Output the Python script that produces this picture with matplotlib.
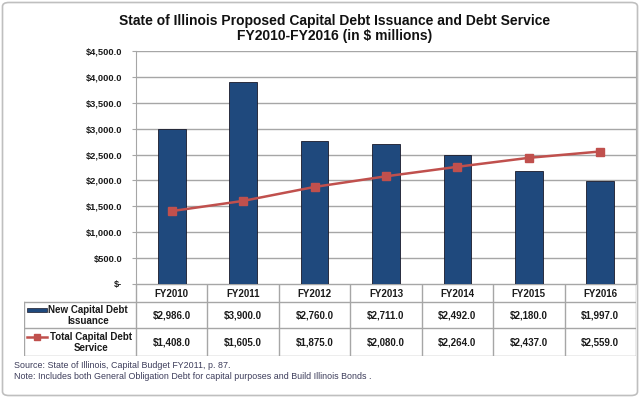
import matplotlib
matplotlib.use("Agg")
import matplotlib.pyplot as plt
from matplotlib.patches import FancyBboxPatch, Rectangle

categories = ["FY2010", "FY2011", "FY2012", "FY2013", "FY2014", "FY2015", "FY2016"]
new_issuance = [2986.0, 3900.0, 2760.0, 2711.0, 2492.0, 2180.0, 1997.0]
debt_service = [1408.0, 1605.0, 1875.0, 2080.0, 2264.0, 2437.0, 2559.0]
yticks = [0, 500, 1000, 1500, 2000, 2500, 3000, 3500, 4000, 4500]
series_labels = [["New Capital Debt", "Issuance"], ["Total Capital Debt", "Service"]]
title = "State of Illinois Proposed Capital Debt Issuance and Debt Service\nFY2010-FY2016 (in $ millions)"
source = "Source: State of Illinois, Capital Budget FY2011, p. 87."
note = "Note: Includes both General Obligation Debt for capital purposes and Build Illinois Bonds ."

BAR_C = "#1F497D"
LINE_C = "#C0504D"
GRID_C = "#A6A6A6"
FONT = "Liberation Sans"

W, H = 640, 398
fig = plt.figure(figsize=(W / 100, H / 100), dpi=100)
fig.patch.set_facecolor("white")

def fx(px):
    return px / W

def fy(py):
    return 1 - py / H

# outer frame
frame = FancyBboxPatch((fx(2.5), fy(395.5)), fx(635) - fx(0), fy(2.5) - fy(395.5),
                       boxstyle="round,pad=0,rounding_size=0.01", transform=fig.transFigure,
                       fill=False, edgecolor="#BFBFBF", linewidth=1.2)
fig.patches.append(frame)

pl, pr, pt, pb = 136, 636, 51, 284
ax = fig.add_axes([fx(pl), fy(pb), fx(pr) - fx(pl), fy(pt) - fy(pb)])
x = list(range(len(categories)))
ax.bar(x, new_issuance, width=0.39, color=BAR_C, edgecolor="#1a1a2a", linewidth=0.6, zorder=3)
ax.plot(x, debt_service, color=LINE_C, linewidth=1.8, marker="s", markersize=6, zorder=4)
ax.set_xlim(-0.5, len(categories) - 0.5)
ax.set_ylim(0, 4500)
ax.set_yticks(yticks)
ax.set_yticklabels(["$-" if v == 0 else f"${v:,.1f}" for v in yticks],
                   fontfamily=FONT, fontweight="bold", fontsize=6.7, color="#1a1a1a")
ax.set_xticks([])
ax.yaxis.grid(True, color=GRID_C, linewidth=1.0, zorder=0)
for s in ["top", "bottom"]:
    ax.spines[s].set_visible(False)
ax.spines["left"].set_color(GRID_C)
ax.spines["right"].set_color(GRID_C)
ax.tick_params(axis="y", length=3, color=GRID_C, pad=7)

# data table
tb = 356
lab_l = 24
colw = (pr - pl) / len(categories)
tax = fig.add_axes([fx(lab_l), fy(tb), fx(pr) - fx(lab_l), fy(pb) - fy(tb)])
tax.set_xlim(-0.5 - (pl - lab_l) / colw, len(categories) - 0.5)
tax.set_ylim(tb, pb)
tax.axis("off")
lk = dict(color=GRID_C, linewidth=1.0)
row_y = [pb, 302, 328, tb]
x0 = tax.get_xlim()[0]
tax.plot([-0.5, len(categories) - 0.5], [pb, pb], **lk)
for yy in row_y[1:]:
    tax.plot([x0, len(categories) - 0.5], [yy, yy], **lk)
for i in range(len(categories) + 1):
    tax.plot([i - 0.5, i - 0.5], [pb, tb], **lk)
tax.plot([x0, x0], [302, tb], **lk)

tk = dict(fontfamily=FONT, fontweight="bold", fontsize=7, color="#1a1a1a", ha="center", va="center")
for i, c in enumerate(categories):
    tax.text(i, (pb + 302) / 2 + 0.5, c, **tk)
    tax.text(i, (302 + 328) / 2, f"${new_issuance[i]:,.1f}", **tk)
    tax.text(i, (328 + tb) / 2, f"${debt_service[i]:,.1f}", **tk)

k0 = x0 + 3 / colw
k1 = x0 + 23 / colw
tax.add_patch(Rectangle((k0, 307.5), k1 - k0, 4, facecolor=BAR_C, edgecolor="#1a1a2a", linewidth=0.5))
tax.plot([k0, k1], [336.5, 336.5], color=LINE_C, linewidth=1.8)
tax.plot([(k0 + k1) / 2], [336.5], color=LINE_C, marker="s", markersize=5)
tax.text(x0 + 64 / colw, 310, series_labels[0][0], **tk)
tax.text(x0 + 64 / colw, 320.5, series_labels[0][1], **tk)
tax.text(x0 + 67 / colw, 337, series_labels[1][0], **tk)
tax.text(x0 + 67 / colw, 347.5, series_labels[1][1], **tk)

fig.text(fx(335), fy(28.5), title, ha="center", va="center", fontfamily=FONT,
         fontweight="bold", fontsize=10, linespacing=1.15, color="#111111")
fig.text(fx(14), fy(366), source, ha="left", va="center", fontfamily=FONT, fontsize=6.4, color="#3c3c5a")
fig.text(fx(14), fy(376.5), note, ha="left", va="center", fontfamily=FONT, fontsize=6.4, color="#3c3c5a")

fig.savefig("out.png", dpi=100, facecolor="white")
